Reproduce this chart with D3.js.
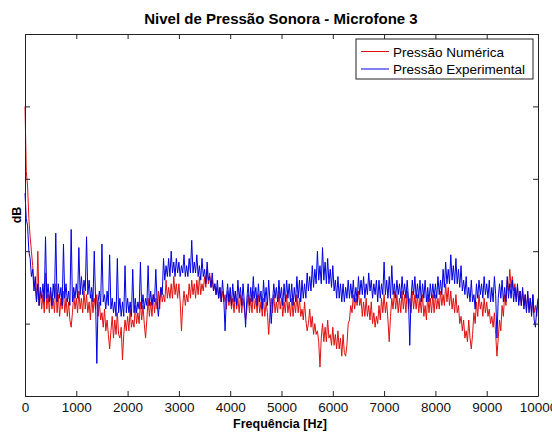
<!DOCTYPE html>
<html>
<head>
<meta charset="utf-8">
<script src="https://cdn.jsdelivr.net/npm/d3@7"></script>
<style>
  body { margin: 0; background: #fff; }
  svg { display: block; font-family: "Liberation Sans", Arial, sans-serif; }
</style>
</head>
<body>
<script>
// sampling step of the spectra (Hz)
const step = 25;

// Pressão Numérica (dB), one value every 25 Hz from 0 to 10000 Hz (one row = 1000 Hz)
const numerica = [
  80, 62, 58, 49, 44, 40, 36, 31, 30, 26, 40, 25, 29, 24, 28, 23, 34, 24, 28, 23, 29, 24, 27, 23, 31, 23, 28, 22, 27, 24, 29, 23, 27, 22, 26, 21, 19, 23, 28, 24,
  27, 23, 29, 24, 27, 23, 29, 24, 28, 23, 26, 21, 28, 23, 27, 24, 28, 22, 26, 21, 23, 19, 24, 18, 21, 17, 13, 18, 22, 16, 21, 17, 23, 17, 16, 19, 10, 17, 21, 18,
  22, 18, 24, 19, 21, 19, 25, 20, 23, 20, 26, 21, 25, 20, 16, 21, 27, 22, 26, 22, 28, 23, 27, 24, 29, 24, 30, 26, 28, 26, 32, 27, 30, 27, 31, 27, 33, 28, 31, 27,
  31, 26, 18, 25, 29, 25, 28, 26, 31, 27, 32, 28, 31, 27, 32, 28, 33, 28, 31, 29, 33, 30, 35, 31, 34, 30, 32, 29, 31, 28, 30, 27, 30, 26, 29, 26, 28, 24, 29, 25,
  28, 24, 27, 23, 29, 24, 27, 23, 28, 23, 27, 24, 21, 24, 28, 23, 27, 23, 29, 24, 27, 23, 28, 23, 26, 22, 27, 22, 26, 23, 17, 23, 27, 23, 28, 23, 26, 23, 29, 24,
  27, 22, 26, 23, 28, 23, 26, 22, 27, 22, 26, 23, 28, 23, 27, 22, 24, 21, 26, 21, 18, 20, 24, 19, 22, 17, 20, 17, 18, 15, 8, 16, 20, 15, 19, 15, 21, 16, 17, 14,
  19, 14, 17, 13, 18, 13, 16, 11, 17, 12, 11, 14, 20, 21, 25, 23, 28, 24, 27, 25, 29, 25, 27, 22, 26, 22, 27, 22, 25, 21, 26, 20, 23, 19, 22, 20, 25, 21, 27, 23,
  28, 23, 26, 21, 15, 22, 27, 24, 29, 24, 28, 23, 27, 23, 29, 24, 28, 23, 29, 24, 27, 23, 29, 24, 28, 24, 28, 23, 27, 23, 28, 22, 25, 21, 28, 23, 27, 23, 28, 23,
  28, 24, 27, 24, 29, 25, 28, 25, 31, 26, 30, 25, 29, 24, 27, 23, 28, 23, 25, 20, 22, 18, 21, 16, 18, 15, 21, 16, 13, 17, 23, 20, 26, 22, 28, 24, 26, 22, 27, 23,
  26, 22, 24, 20, 22, 19, 23, 17, 11, 16, 21, 18, 25, 22, 28, 25, 32, 29, 35, 30, 33, 29, 31, 27, 30, 26, 29, 25, 29, 25, 28, 24, 28, 24, 27, 23, 28, 23, 25, 22,
  26
];

// Pressão Experimental (dB), same frequency grid
const experimental = [
  56, 49, 47, 40, 38, 33, 35, 29, 33, 26, 31, 25, 30, 27, 31, 26, 44, 27, 31, 26, 30, 25, 31, 27, 45, 26, 31, 27, 30, 25, 42, 27, 31, 26, 29, 25, 46, 26, 30, 27,
  31, 27, 41, 28, 33, 28, 32, 29, 44, 28, 32, 27, 30, 26, 40, 27, 9, 26, 29, 25, 42, 26, 28, 24, 29, 25, 39, 24, 27, 23, 26, 22, 38, 23, 27, 22, 26, 22, 36, 23,
  27, 23, 26, 22, 35, 23, 27, 23, 26, 24, 37, 24, 28, 24, 27, 25, 36, 25, 29, 25, 28, 26, 35, 26, 22, 27, 30, 28, 38, 32, 36, 33, 38, 33, 40, 34, 37, 33, 38, 34,
  37, 33, 36, 34, 39, 33, 36, 33, 38, 34, 43, 34, 37, 34, 39, 33, 36, 32, 38, 33, 35, 31, 37, 32, 33, 30, 34, 29, 31, 28, 32, 27, 30, 26, 32, 27, 18, 27, 31, 26,
  30, 25, 31, 26, 29, 25, 32, 27, 30, 25, 31, 26, 19, 27, 31, 25, 30, 26, 33, 27, 30, 25, 31, 26, 29, 24, 32, 26, 30, 25, 32, 26, 20, 26, 31, 27, 30, 26, 32, 27,
  30, 25, 31, 26, 32, 27, 31, 26, 31, 25, 30, 26, 33, 27, 32, 26, 32, 27, 31, 27, 34, 29, 33, 29, 36, 30, 35, 31, 40, 32, 36, 31, 41, 32, 37, 31, 38, 31, 35, 30,
  36, 29, 32, 27, 33, 27, 31, 26, 31, 26, 30, 27, 32, 27, 31, 27, 32, 26, 30, 26, 33, 28, 32, 28, 33, 27, 31, 28, 34, 29, 32, 27, 31, 28, 32, 26, 32, 27, 31, 28,
  37, 28, 32, 27, 33, 27, 36, 28, 31, 27, 32, 28, 31, 27, 33, 28, 31, 27, 32, 27, 14, 27, 32, 28, 33, 27, 31, 27, 32, 26, 31, 27, 32, 26, 30, 26, 31, 27, 31, 27,
  31, 27, 33, 28, 32, 28, 35, 30, 37, 31, 35, 31, 39, 32, 36, 31, 38, 31, 35, 30, 36, 29, 32, 28, 33, 27, 30, 26, 32, 26, 28, 24, 31, 27, 32, 28, 31, 27, 33, 28,
  31, 27, 32, 26, 30, 26, 33, 28, 16, 27, 31, 27, 32, 26, 30, 26, 33, 27, 31, 27, 32, 26, 30, 26, 31, 25, 29, 25, 30, 24, 28, 23, 29, 23, 27, 22, 28, 21, 19, 24,
  27
];

const xTicks = [0, 1000, 2000, 3000, 4000, 5000, 6000, 7000, 8000, 9000, 10000];
const yTicks = [0, 20, 40, 60, 80, 100];
const legendLabels = ["Pressão Numérica", "Pressão Experimental"];
const colors = ["#e01010", "#0000e0"];

const W = 552, H = 434;
const margin = {top: 34, right: 14, bottom: 38, left: 25};

const svg = d3.select("body").append("svg")
  .attr("width", W)
  .attr("height", H);

const x = d3.scaleLinear()
  .domain([0, 10000])
  .range([margin.left, W - margin.right]);

const y = d3.scaleLinear()
  .domain([0, 100])
  .range([H - margin.bottom, margin.top]);

const toPoints = arr => arr.map((v, i) => [i * step, v]);

const line = d3.line()
  .x(d => x(d[0]))
  .y(d => y(d[1]));

// series: numeric first, experimental drawn on top
[numerica, experimental].forEach((s, i) => {
  svg.append("path")
    .datum(toPoints(s))
    .attr("fill", "none")
    .attr("stroke", colors[i])
    .attr("stroke-width", 1)
    .attr("d", line);
});

// axes, MATLAB style box with inward ticks
const axisColor = "#222";
const tickLen = 5;

svg.append("g")
  .attr("transform", `translate(0,${H - margin.bottom})`)
  .call(d3.axisBottom(x).tickValues(xTicks).tickSizeInner(-tickLen).tickSizeOuter(0).tickPadding(6).tickFormat(d3.format("d")))
  .call(g => g.selectAll("text").attr("font-size", 13.5).attr("fill", "#111"));

svg.append("g")
  .attr("transform", `translate(0,${margin.top})`)
  .call(d3.axisTop(x).tickValues(xTicks).tickSizeInner(-tickLen).tickSizeOuter(0).tickFormat(""));

svg.append("g")
  .attr("transform", `translate(${margin.left},0)`)
  .call(d3.axisLeft(y).tickValues(yTicks).tickSizeInner(-tickLen).tickSizeOuter(0).tickFormat(""));

svg.append("g")
  .attr("transform", `translate(${W - margin.right},0)`)
  .call(d3.axisRight(y).tickValues(yTicks).tickSizeInner(-tickLen).tickSizeOuter(0).tickFormat(""));

svg.selectAll(".domain, .tick line").attr("stroke", axisColor);

// title and axis labels
svg.append("text")
  .attr("x", 281).attr("y", 24)
  .attr("text-anchor", "middle")
  .attr("font-size", 15).attr("font-weight", "bold")
  .text("Nivel de Pressão Sonora - Microfone 3");

svg.append("text")
  .attr("x", 280).attr("y", 427.5)
  .attr("text-anchor", "middle")
  .attr("font-size", 12.5).attr("font-weight", "bold")
  .text("Frequência [Hz]");

svg.append("text")
  .attr("transform", `translate(21,${(margin.top + H - margin.bottom) / 2}) rotate(-90)`)
  .attr("text-anchor", "middle")
  .attr("font-size", 12.5).attr("font-weight", "bold")
  .text("dB");

// legend
const lg = svg.append("g").attr("transform", "translate(356,39)");
lg.append("rect")
  .attr("width", 177).attr("height", 40)
  .attr("fill", "#fff").attr("stroke", axisColor);
legendLabels.forEach((t, i) => {
  const cy = 12.5 + i * 17.5;
  lg.append("line")
    .attr("x1", 5).attr("x2", 33).attr("y1", cy).attr("y2", cy)
    .attr("stroke", colors[i]).attr("stroke-width", 1);
  lg.append("text")
    .attr("x", 37).attr("y", cy + 5)
    .attr("font-size", 13.5)
    .text(t);
});
</script>
</body>
</html>
